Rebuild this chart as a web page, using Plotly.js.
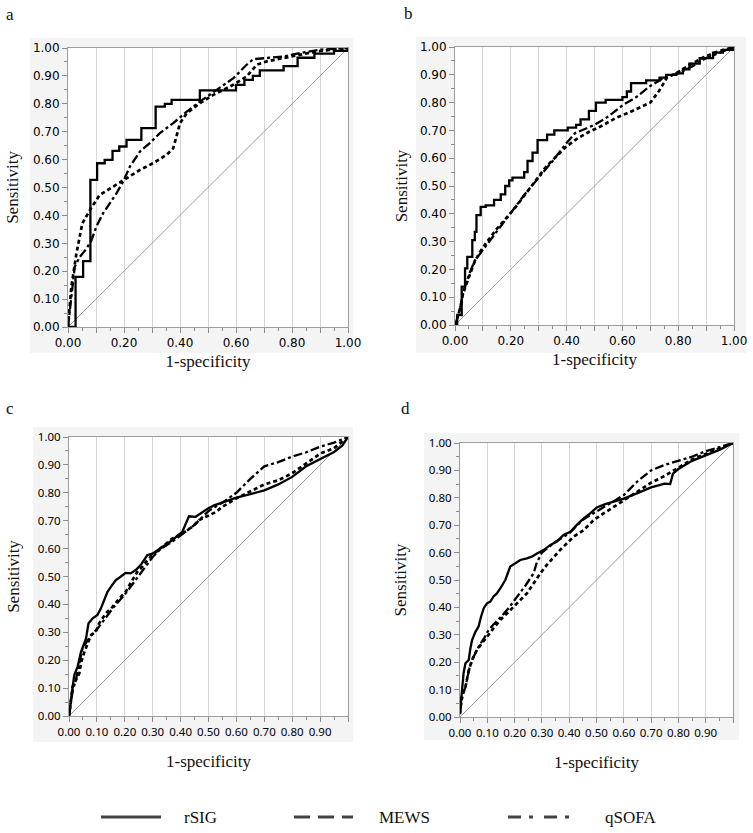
<!DOCTYPE html>
<html><head><meta charset="utf-8">
<script src="https://cdn.plot.ly/plotly-3.0.1.min.js"></script>
<style>html,body{margin:0;padding:0;background:#fff}#chart{width:753px;height:833px}</style>
</head><body><div id="chart"></div>
<script>
// ---------- data ----------
const SERIES = ["rSIG", "MEWS", "qSOFA"];
const PANELS = ["a", "b", "c", "d"];

const TICKS = [0, 0.1, 0.2, 0.3, 0.4, 0.5, 0.6, 0.7, 0.8, 0.9, 1.0];
const Y_TICK_TEXT = ["0.00","0.10","0.20","0.30","0.40","0.50","0.60","0.70","0.80","0.90","1.00"];
const X_TICK_TEXT_AB = ["0.00","","0.20","","0.40","","0.60","","0.80","","1.00"];
const X_TICK_TEXT_CD = ["0.00","0.10","0.20","0.30","0.40","0.50","0.60","0.70","0.80","0.90",""];

const DIAG_X = [0, 1];
const DIAG_Y = [0, 1];

// Panel a
const A_RSIG_X = [0, 0.027, 0.054, 0.080, 0.104, 0.131, 0.159, 0.183, 0.209, 0.262, 0.313, 0.346, 0.370, 0.471, 0.600, 0.630, 0.660, 0.685, 0.770, 0.820, 0.880, 0.950, 1.0];
const A_RSIG_Y = [0, 0.180, 0.236, 0.527, 0.587, 0.599, 0.631, 0.647, 0.671, 0.713, 0.790, 0.800, 0.814, 0.848, 0.868, 0.886, 0.900, 0.920, 0.935, 0.965, 0.980, 0.990, 1.0];
const A_MEWS_X = [0, 0.005, 0.012, 0.030, 0.051, 0.078, 0.113, 0.161, 0.209, 0.257, 0.304, 0.352, 0.376, 0.400, 0.424, 0.471, 0.519, 0.590, 0.638, 0.674, 0.710, 0.770, 0.830, 0.889, 1.0];
const A_MEWS_Y = [0, 0.050, 0.144, 0.263, 0.371, 0.419, 0.473, 0.503, 0.533, 0.563, 0.587, 0.617, 0.641, 0.731, 0.766, 0.802, 0.832, 0.868, 0.898, 0.940, 0.952, 0.964, 0.976, 0.988, 1.0];
const A_QSOFA_X = [0, 0.012, 0.024, 0.042, 0.066, 0.084, 0.101, 0.125, 0.149, 0.173, 0.197, 0.221, 0.257, 0.292, 0.328, 0.376, 0.424, 0.471, 0.531, 0.591, 0.638, 0.662, 0.710, 0.770, 0.830, 0.900, 1.0];
const A_QSOFA_Y = [0, 0.108, 0.216, 0.251, 0.281, 0.311, 0.359, 0.407, 0.443, 0.479, 0.521, 0.575, 0.629, 0.659, 0.695, 0.731, 0.772, 0.808, 0.850, 0.892, 0.940, 0.960, 0.964, 0.970, 0.982, 0.994, 1.0];

// Panel b
const B_RSIG_X = [0, 0.008, 0.024, 0.036, 0.044, 0.062, 0.071, 0.077, 0.092, 0.110, 0.140, 0.164, 0.180, 0.194, 0.206, 0.242, 0.248, 0.260, 0.278, 0.296, 0.326, 0.330, 0.356, 0.400, 0.404, 0.434, 0.450, 0.480, 0.505, 0.540, 0.600, 0.616, 0.631, 0.673, 0.685, 0.733, 0.757, 0.793, 0.817, 0.840, 0.877, 0.925, 0.960, 1.0];
const B_RSIG_Y = [0, 0.036, 0.138, 0.204, 0.245, 0.305, 0.335, 0.395, 0.425, 0.430, 0.450, 0.470, 0.500, 0.520, 0.530, 0.530, 0.550, 0.590, 0.620, 0.665, 0.665, 0.685, 0.700, 0.700, 0.710, 0.720, 0.740, 0.770, 0.800, 0.810, 0.820, 0.840, 0.870, 0.870, 0.880, 0.890, 0.900, 0.905, 0.920, 0.940, 0.960, 0.980, 0.990, 1.0];
const B_MEWS_X = [0, 0.008, 0.020, 0.029, 0.038, 0.050, 0.068, 0.086, 0.110, 0.146, 0.182, 0.218, 0.254, 0.290, 0.326, 0.362, 0.398, 0.434, 0.481, 0.529, 0.577, 0.625, 0.670, 0.700, 0.730, 0.760, 0.800, 0.840, 0.889, 0.937, 1.0];
const B_MEWS_Y = [0, 0.024, 0.066, 0.114, 0.138, 0.174, 0.222, 0.257, 0.293, 0.341, 0.383, 0.425, 0.473, 0.521, 0.569, 0.605, 0.641, 0.668, 0.695, 0.718, 0.745, 0.765, 0.785, 0.800, 0.840, 0.890, 0.910, 0.935, 0.962, 0.982, 1.0];
const B_QSOFA_X = [0, 0.010, 0.020, 0.030, 0.040, 0.050, 0.070, 0.100, 0.150, 0.200, 0.250, 0.300, 0.350, 0.400, 0.430, 0.500, 0.550, 0.600, 0.650, 0.700, 0.750, 0.800, 0.850, 0.900, 0.950, 1.0];
const B_QSOFA_Y = [0, 0.030, 0.070, 0.120, 0.150, 0.180, 0.230, 0.270, 0.340, 0.405, 0.470, 0.530, 0.590, 0.655, 0.690, 0.720, 0.750, 0.790, 0.820, 0.860, 0.890, 0.905, 0.930, 0.960, 0.980, 1.0];

// Panel c
const C_RSIG_X = [0, 0.007, 0.013, 0.019, 0.031, 0.043, 0.049, 0.061, 0.070, 0.085, 0.102, 0.114, 0.126, 0.138, 0.150, 0.168, 0.185, 0.203, 0.221, 0.239, 0.257, 0.281, 0.299, 0.322, 0.346, 0.370, 0.406, 0.430, 0.454, 0.477, 0.500, 0.520, 0.550, 0.600, 0.650, 0.700, 0.750, 0.800, 0.850, 0.900, 0.950, 0.980, 1.0];
const C_RSIG_Y = [0, 0.070, 0.105, 0.147, 0.177, 0.230, 0.248, 0.278, 0.332, 0.350, 0.362, 0.385, 0.415, 0.445, 0.463, 0.487, 0.499, 0.513, 0.511, 0.523, 0.541, 0.577, 0.582, 0.597, 0.612, 0.630, 0.660, 0.716, 0.714, 0.730, 0.745, 0.755, 0.765, 0.783, 0.795, 0.809, 0.830, 0.857, 0.895, 0.922, 0.946, 0.970, 1.0];
const C_MEWS_X = [0, 0.007, 0.013, 0.025, 0.037, 0.043, 0.055, 0.067, 0.079, 0.096, 0.108, 0.132, 0.156, 0.180, 0.203, 0.227, 0.245, 0.263, 0.281, 0.305, 0.335, 0.370, 0.406, 0.442, 0.466, 0.500, 0.524, 0.550, 0.600, 0.700, 0.750, 0.800, 0.850, 0.900, 0.950, 1.0];
const C_MEWS_Y = [0, 0.057, 0.105, 0.129, 0.153, 0.190, 0.230, 0.260, 0.290, 0.302, 0.332, 0.368, 0.391, 0.421, 0.445, 0.487, 0.517, 0.535, 0.559, 0.582, 0.606, 0.636, 0.654, 0.678, 0.702, 0.720, 0.730, 0.750, 0.780, 0.830, 0.845, 0.870, 0.905, 0.940, 0.960, 1.0];
const C_QSOFA_X = [0, 0.013, 0.025, 0.040, 0.049, 0.060, 0.080, 0.100, 0.130, 0.160, 0.200, 0.240, 0.270, 0.300, 0.330, 0.370, 0.410, 0.450, 0.500, 0.550, 0.600, 0.650, 0.700, 0.750, 0.800, 0.850, 0.900, 0.950, 1.0];
const C_QSOFA_Y = [0, 0.090, 0.130, 0.200, 0.245, 0.260, 0.290, 0.310, 0.350, 0.390, 0.435, 0.490, 0.530, 0.570, 0.600, 0.625, 0.655, 0.685, 0.735, 0.765, 0.800, 0.850, 0.895, 0.910, 0.930, 0.945, 0.965, 0.980, 1.0];

// Panel d
const D_RSIG_X = [0, 0.004, 0.007, 0.013, 0.020, 0.032, 0.038, 0.044, 0.056, 0.068, 0.077, 0.087, 0.099, 0.111, 0.123, 0.135, 0.148, 0.166, 0.184, 0.202, 0.221, 0.245, 0.263, 0.282, 0.306, 0.331, 0.355, 0.379, 0.404, 0.428, 0.453, 0.477, 0.501, 0.532, 0.550, 0.600, 0.650, 0.700, 0.750, 0.770, 0.780, 0.800, 0.850, 0.900, 0.950, 1.0];
const D_RSIG_Y = [0.013, 0.060, 0.110, 0.160, 0.196, 0.208, 0.250, 0.280, 0.310, 0.330, 0.366, 0.397, 0.415, 0.421, 0.440, 0.451, 0.470, 0.500, 0.549, 0.561, 0.573, 0.579, 0.585, 0.597, 0.609, 0.628, 0.640, 0.664, 0.676, 0.701, 0.725, 0.743, 0.765, 0.777, 0.782, 0.797, 0.817, 0.838, 0.852, 0.850, 0.888, 0.905, 0.935, 0.955, 0.975, 1.0];
const D_MEWS_X = [0, 0.004, 0.011, 0.020, 0.032, 0.044, 0.062, 0.080, 0.099, 0.123, 0.148, 0.172, 0.196, 0.221, 0.245, 0.270, 0.294, 0.318, 0.343, 0.367, 0.392, 0.416, 0.453, 0.490, 0.526, 0.600, 0.700, 0.750, 0.800, 0.850, 0.900, 1.0];
const D_MEWS_Y = [0.010, 0.060, 0.090, 0.110, 0.170, 0.208, 0.245, 0.270, 0.293, 0.324, 0.355, 0.378, 0.403, 0.427, 0.451, 0.488, 0.524, 0.555, 0.585, 0.610, 0.634, 0.658, 0.682, 0.719, 0.743, 0.790, 0.855, 0.880, 0.910, 0.940, 0.960, 1.0];
const D_QSOFA_X = [0, 0.010, 0.020, 0.035, 0.050, 0.070, 0.090, 0.100, 0.120, 0.150, 0.180, 0.210, 0.240, 0.270, 0.280, 0.300, 0.350, 0.400, 0.450, 0.500, 0.550, 0.600, 0.650, 0.700, 0.750, 0.800, 0.850, 0.900, 1.0];
const D_QSOFA_Y = [0.020, 0.080, 0.110, 0.180, 0.220, 0.260, 0.290, 0.310, 0.335, 0.365, 0.400, 0.440, 0.480, 0.525, 0.560, 0.600, 0.640, 0.670, 0.720, 0.750, 0.780, 0.810, 0.860, 0.900, 0.920, 0.935, 0.950, 0.970, 1.0];

// ---------- styling ----------
const W = 753, H = 833;
const px = v => v / W;
const py = v => 1 - v / H;

const SERIF = "Liberation Serif, Times New Roman, serif";
const STYLE = {
  rSIG:  {color: "#000", width: 2.3, dash: "solid"},
  MEWS:  {color: "#000", width: 2.7, dash: "4px,3px"},
  qSOFA: {color: "#000", width: 2.3, dash: "9px,3px,3px,3px"}
};

const panelData = {
  a: {rSIG: [A_RSIG_X, A_RSIG_Y], MEWS: [A_MEWS_X, A_MEWS_Y], qSOFA: [A_QSOFA_X, A_QSOFA_Y]},
  b: {rSIG: [B_RSIG_X, B_RSIG_Y], MEWS: [B_MEWS_X, B_MEWS_Y], qSOFA: [B_QSOFA_X, B_QSOFA_Y]},
  c: {rSIG: [C_RSIG_X, C_RSIG_Y], MEWS: [C_MEWS_X, C_MEWS_Y], qSOFA: [C_QSOFA_X, C_QSOFA_Y]},
  d: {rSIG: [D_RSIG_X, D_RSIG_Y], MEWS: [D_MEWS_X, D_MEWS_Y], qSOFA: [D_QSOFA_X, D_QSOFA_Y]}
};

// plot-area boxes in pixels [left, right, top, bottom], background boxes, letter positions
const BOX = {
  a: {plot: [68, 348, 48, 327], bg: [30, 353, 38, 353], letter: [10, 14], tickFont: "DejaVu Sans", tickSize: 12, xStand: 5, yStand: 9, xt: X_TICK_TEXT_AB},
  b: {plot: [455, 734, 47, 325], bg: [416, 746, 37, 353], letter: [409, 13], tickFont: "DejaVu Sans", tickSize: 12, xStand: 5, yStand: 7, xt: X_TICK_TEXT_AB},
  c: {plot: [69, 348, 437, 716], bg: [33, 353, 427, 742], letter: [10, 408], tickFont: "Noto Sans", tickSize: 11.5, xStand: 17, yStand: 13, xt: X_TICK_TEXT_CD},
  d: {plot: [460, 733, 443, 717], bg: [424, 739, 433, 740], letter: [405, 408], tickFont: "Noto Sans", tickSize: 11.5, xStand: 17, yStand: 17, xt: X_TICK_TEXT_CD}
};

const traces = [];
const layout = {
  width: W, height: H,
  margin: {l: 0, r: 0, t: 0, b: 0},
  paper_bgcolor: "#ffffff",
  plot_bgcolor: "rgba(0,0,0,0)",
  showlegend: false,
  shapes: [],
  annotations: []
};

PANELS.forEach((p, i) => {
  const n = i === 0 ? "" : String(i + 1);
  const xa = "x" + n, ya = "y" + n;
  const b = BOX[p];
  const [l, r, t, bt] = b.plot;

  // diagonal reference
  traces.push({x: DIAG_X, y: DIAG_Y, xaxis: xa, yaxis: ya, mode: "lines",
    line: {color: "#9a9a9a", width: 1}, hoverinfo: "skip"});
  // ROC curves
  SERIES.slice().reverse().forEach(s => {
    const [xs, ys] = panelData[p][s];
    const st = STYLE[s];
    traces.push({x: xs, y: ys, xaxis: xa, yaxis: ya, mode: "lines", name: s,
      line: {color: st.color, width: st.width, dash: st.dash,
             shape: (s === "rSIG" && (p === "a" || p === "b")) ? "hv" : "linear"}});
  });

  const tickFont = {family: b.tickFont, size: b.tickSize, color: "#000"};
  const common = {
    range: [0, 1], fixedrange: true, zeroline: false,
    showline: true, linecolor: "#9c9c9c", linewidth: 1, mirror: true,
    ticks: "outside", ticklen: 5, tickwidth: 1, tickcolor: "#8c8c8c",
    tickmode: "array", tickvals: TICKS, tickfont: tickFont,
    minor: {tickmode: "linear", tick0: 0, dtick: 0.05, ticks: "outside", ticklen: 3, tickcolor: "#8c8c8c", showgrid: false},
    automargin: false
  };
  layout["xaxis" + n] = Object.assign({}, common, {
    domain: [px(l), px(r)], anchor: ya,
    ticktext: b.xt, showgrid: true, gridcolor: "#d6d6d6", gridwidth: 1,
    title: {text: "1-specificity", font: {family: SERIF, size: 17, color: "#111"}, standoff: b.xStand}
  });
  layout["yaxis" + n] = Object.assign({}, common, {
    domain: [py(bt), py(t)], anchor: xa,
    ticktext: Y_TICK_TEXT, showgrid: false,
    title: {text: "Sensitivity", font: {family: SERIF, size: 17, color: "#111"}, standoff: b.yStand}
  });

  // light-grey panel backgrounds, then white plot areas
  layout.shapes.push({type: "rect", xref: "paper", yref: "paper", layer: "below",
    x0: px(b.bg[0]), x1: px(b.bg[1]), y0: py(b.bg[3]), y1: py(b.bg[2]),
    fillcolor: "#f4f4f4", line: {width: 0}});
  layout.shapes.push({type: "rect", xref: xa + " domain", yref: ya + " domain", layer: "below",
    x0: 0, x1: 1, y0: 0, y1: 1, fillcolor: "#ffffff", line: {width: 0}});

  layout.annotations.push({text: p, xref: "paper", yref: "paper",
    x: px(b.letter[0]), y: py(b.letter[1]), xanchor: "center", yanchor: "middle",
    showarrow: false, font: {family: SERIF, size: 17, color: "#111"}});
});

// legend along the bottom
const LEGEND_Y = 817;
const LEGEND_ITEMS = [
  {name: "rSIG",  x0: 101, x1: 161, tx: 200, dash: "solid"},
  {name: "MEWS",  x0: 294, x1: 353, tx: 404, dash: "16px,8px"},
  {name: "qSOFA", x0: 508, x1: 570, tx: 630, dash: "13px,8px,4px,11px"}
];
LEGEND_ITEMS.forEach(it => {
  layout.shapes.push({type: "line", xref: "paper", yref: "paper",
    x0: px(it.x0), x1: px(it.x1), y0: py(LEGEND_Y), y1: py(LEGEND_Y),
    line: {color: "#444", width: 3, dash: it.dash}});
  layout.annotations.push({text: it.name, xref: "paper", yref: "paper",
    x: px(it.tx), y: py(LEGEND_Y), xanchor: "center", yanchor: "middle",
    showarrow: false, font: {family: SERIF, size: 17, color: "#111"}});
});

Plotly.newPlot("chart", traces, layout, {displayModeBar: false, staticPlot: true});
</script></body></html>
